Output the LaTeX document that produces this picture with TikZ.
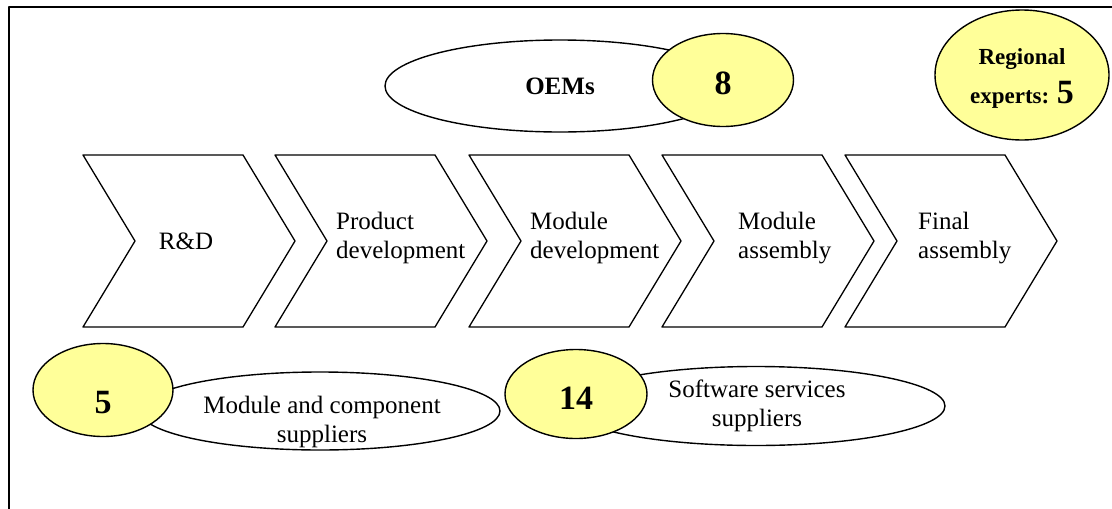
\documentclass[tikz,border=0pt]{standalone}
\usepackage{fontspec}
\setmainfont{Liberation Serif}
\usetikzlibrary{shapes.geometric}
\definecolor{lemon}{RGB}{255,255,153}
\newcommand{\downby}[2]{\raisebox{-#1pt}[0pt][0pt]{#2}}
\tikzset{
  wball/.style={draw,line width=1.4pt,ellipse,fill=white,inner sep=0pt},
  yball/.style={wball,fill=lemon,font=\bfseries\fontsize{34}{40}\selectfont},
  stagetxt/.style={font=\fontsize{25}{29}\selectfont,align=left,anchor=west,inner sep=0pt},
  roletxt/.style={font=\fontsize{25}{29}\selectfont,align=center,inner sep=0pt}
}
\begin{document}
\begin{tikzpicture}[x=1pt,y=-1pt,line join=round]
\useasboundingbox (0,0) rectangle (1112,509);
\draw[line width=2pt] (9,509) -- (9,7) -- (1112,7);
% value chain
\foreach \x/\nm in {83/rd,275/pd,469/md,662/ma,845/fa}{
\draw[line width=1.3pt] (\x,155) -- ++(160,0) -- ++(52,86) -- ++(-52,86) -- ++(-160,0) -- ++(52,-86) -- cycle;
\coordinate (\nm) at (\x,241);
}
\node[roletxt] (rdt) at ([xshift=103pt]rd) {R\&D};
\node[stagetxt] (pdt) at (336,238) {Product\\development};
\node[stagetxt] (mdt) at (530,238) {Module\\development};
\node[stagetxt] (mat) at (738,238) {Module\\assembly};
\node[stagetxt] (fat) at (918,238) {Final\\assembly};
% actors
\node[wball,minimum width=350pt,minimum height=92pt,font=\bfseries\fontsize{25}{29}\selectfont] (oem) at (560,86) {OEMs};
\node[yball,minimum width=141pt,minimum height=93pt] (oemn) at (723,80) {\downby{14.5}{8}};
\node[yball,minimum width=174pt,minimum height=130pt] (reg) at (1022,75) {};
\node[roletxt,font=\bfseries\fontsize{23}{28}\selectfont] (regt) at (1022,78) {Regional\\[11pt]experts: {\fontsize{34}{40}\selectfont 5}};
\node[wball,minimum width=360pt,minimum height=78pt] (mcs) at (320,411) {};
\node[roletxt] (mcst) at (322,422) {Module and component\\suppliers};
\node[yball,minimum width=140pt,minimum height=93pt] (mcn) at (103,390) {\downby{23}{5}};
\node[wball,minimum width=378pt,minimum height=79pt] (sws) at (756,406) {};
\node[roletxt] (swst) at (757,406) {Software services\\suppliers};
\node[yball,minimum width=142pt,minimum height=89pt] (swn) at (576,394) {\downby{15}{14}};
\end{tikzpicture}
\end{document}
